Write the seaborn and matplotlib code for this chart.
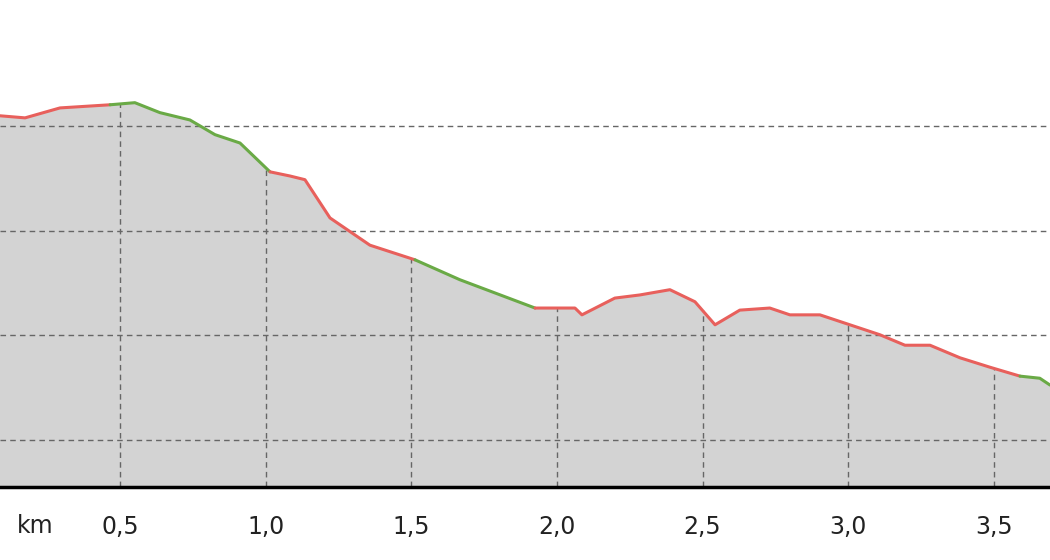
import matplotlib
matplotlib.use("Agg")
import matplotlib.pyplot as plt
import seaborn as sns
import pandas as pd
import numpy as np

# elevation profile
km = [0.088, 0.174, 0.294, 0.466, 0.551, 0.637, 0.740, 0.826, 0.912, 1.015,
      1.084, 1.135, 1.221, 1.358, 1.513, 1.667, 1.925, 2.062, 2.086, 2.199,
      2.285, 2.388, 2.474, 2.543, 2.628, 2.731, 2.800, 2.903, 3.006, 3.109,
      3.195, 3.281, 3.384, 3.487, 3.590, 3.658, 3.693]
elev = [81.9, 81.5, 83.4, 84.0, 84.4, 82.5, 81.1, 78.3, 76.7, 71.2,
        70.4, 69.7, 62.4, 57.2, 54.4, 50.6, 45.2, 45.2, 43.9, 47.1,
        47.7, 48.7, 46.4, 42.0, 44.8, 45.2, 43.9, 43.9, 42.0, 40.1,
        38.1, 38.1, 35.7, 33.9, 32.2, 31.8, 30.5]
# segments: (start km, end km, kind)
segments = [(0.088, 0.466, "up"), (0.466, 1.015, "down"), (1.015, 1.513, "up"),
            (1.513, 1.925, "down"), (1.925, 3.590, "up"), (3.590, 3.693, "down")]
seg_colors = {"up": "#e8605c", "down": "#6aaa46"}

sns.set_style("white")
df = pd.DataFrame({"km": km, "elev": elev})

fig = plt.figure(figsize=(10.5, 5.6), dpi=100)
ax = fig.add_axes([0, 0.13, 1, 0.87])
ax.fill_between(df["km"], df["elev"], 0, color="#d3d3d3", zorder=1)

xt = [0.5, 1.0, 1.5, 2.0, 2.5, 3.0, 3.5]
dash = (0, (4, 3))
# vertical grid only below the profile
ax.vlines(xt, 0, np.interp(xt, km, elev), colors="#666666", linestyles=dash,
          linewidth=1, zorder=2)
for yv in [20, 40, 60, 80]:
    ax.axhline(yv, color="#666666", linestyle=dash, linewidth=1, zorder=2)

for a, b, kind in segments:
    part = df[(df["km"] >= a) & (df["km"] <= b)]
    sns.lineplot(data=part, x="km", y="elev", ax=ax, color=seg_colors[kind],
                 linewidth=2.2, zorder=3, sort=False)

ax.set_xlim(0.088, 3.693)
ax.set_ylim(11, 104)
ax.set_xticks(xt)
ax.set_xticklabels([f"{v:.1f}".replace(".", ",") for v in xt], fontsize=17, color="#222222")
ax.set_yticks([])
ax.tick_params(axis="x", length=0, pad=20)
for s in ["top", "left", "right"]:
    ax.spines[s].set_visible(False)
ax.spines["bottom"].set_linewidth(2.5)
ax.spines["bottom"].set_color("black")
ax.set_xlabel("")
ax.set_ylabel("")
fig.text(35 / 1050, 1 - 526 / 560, "km", fontsize=17, color="#222222",
         ha="center", va="center")

fig.savefig("out.png", dpi=100)
